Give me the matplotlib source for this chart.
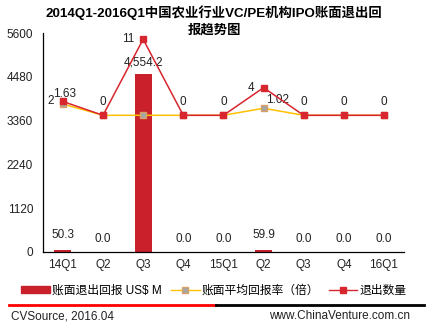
import matplotlib
matplotlib.use("Agg")
import matplotlib.pyplot as plt
from matplotlib.lines import Line2D
import numpy as np

plt.rcParams['font.family'] = ['Liberation Sans', 'Noto Sans CJK SC', 'DejaVu Sans']

# data
quarters = ["14Q1", "Q2", "Q3", "Q4", "15Q1", "Q2", "Q3", "Q4", "16Q1"]
exit_return = [50.3, 0.0, 4554.2, 0.0, 0.0, 59.9, 0.0, 0.0, 0.0]
avg_multiple = [1.63, 0, 0, 0, 0, 1.02, 0, 0, 0]
exit_count = [2, 0, 11, 0, 0, 4, 0, 0, 0]
y_ticks = [0, 1120, 2240, 3360, 4480, 5600]

bar_color = "#c9202b"
red_line = "#d8262f"
orange_line = "#ffc000"

fig = plt.figure(figsize=(4.28, 3.31), dpi=100)
ax = fig.add_axes([0.100, 0.2387, 0.844, 0.6616])
x = np.arange(len(quarters))

bars = ax.bar(x, exit_return, width=0.42, color=bar_color, zorder=2)
ax.set_xlim(-0.5, len(quarters) - 0.5)
ax.set_ylim(0, 5600)
ax.set_yticks(y_ticks)
ax.set_xticks(x)
ax.set_xticklabels(quarters)
ax.tick_params(axis="both", length=0, labelsize=8.5, colors="#222222")
ax.tick_params(axis="y", pad=7)
ax.tick_params(axis="x", pad=5)
for s in ["top", "right"]:
    ax.spines[s].set_visible(False)
ax.spines["left"].set_linewidth(0.9)
ax.spines["bottom"].set_linewidth(0.9)

# bar value labels
for xi, v in zip(x, exit_return):
    if v > 1000:
        txt = f"{v:,.1f}"
        off = 130
    elif v > 0:
        txt = f"{v:.1f}"
        off = 220
    else:
        txt = f"{v:.1f}"
        off = 170
    ax.text(xi, v + off, txt, ha="center", va="bottom", fontsize=8.5, color="#222222")

# secondary axis for lines
ax2 = ax.twinx()
ax2.set_ylim(-19.78, 11.91)
ax2.axis("off")
ax2.plot(x, avg_multiple, color=orange_line, lw=1.1, marker="s", ms=4,
         mfc="#a6a6a6", mec="#d9a066", zorder=3)
ax2.plot(x, exit_count, color=red_line, lw=1.1, marker="s", ms=4.5,
         mfc=red_line, mec=red_line, zorder=4)

# line labels
for xi, v in zip(x, exit_count):
    if v > 0:
        ax2.text(xi - 0.22, v, str(v), ha="right", va="center", fontsize=8.5, color="#222222")
    else:
        ax2.text(xi, v + 1.0, "0", ha="center", va="bottom", fontsize=8.5, color="#222222")
for xi, v in zip(x, avg_multiple):
    if v > 0:
        if xi == 0:
            ax2.text(xi - 0.25, v + 0.55, f"{v:.2f}", ha="left", va="bottom", fontsize=8.5, color="#222222")
        else:
            ax2.text(xi + 0.05, v + 0.3, f"{v:.2f}", ha="left", va="bottom", fontsize=8.5, color="#222222")

# title, two lines
fig.text(0.5, 0.963, "2014Q1-2016Q1中国农业行业VC/PE机构IPO账面退出回",
         ha="center", va="center", fontsize=9.6, fontweight="bold")
fig.text(0.5, 0.909, "报趋势图",
         ha="center", va="center", fontsize=9.6, fontweight="bold")

# legend
handles = [
    plt.Rectangle((0, 0), 1, 1, color=bar_color),
    Line2D([0], [0], color=orange_line, lw=1, marker="s", ms=4, mfc="#a6a6a6", mec="#d9a066"),
    Line2D([0], [0], color=red_line, lw=1, marker="s", ms=4, mfc=red_line, mec=red_line),
]
labels = ["账面退出回报 US$ M", "账面平均回报率（倍）", "退出数量"]
fig.legend(handles, labels, loc="center", bbox_to_anchor=(0.5, 0.122), ncol=3,
           frameon=False, fontsize=8.5, handlelength=2.4, handleheight=0.5,
           columnspacing=0.8, handletextpad=0.2)

# footer
fig.add_artist(Line2D([0.021, 0.505], [0.079, 0.079], color="#ff0000", lw=2))
fig.add_artist(Line2D([0.505, 0.99], [0.079, 0.079], color="#000000", lw=2))
fig.text(0.026, 0.045, "CVSource, 2016.04", ha="left", va="center", fontsize=8.5, color="#222222")
fig.text(0.958, 0.045, "www.ChinaVenture.com.cn", ha="right", va="center", fontsize=8.5, color="#222222")

fig.savefig("out.png", dpi=100)
